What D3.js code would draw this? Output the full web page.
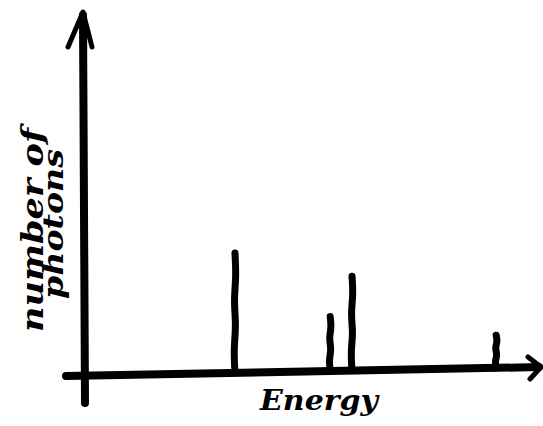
<!DOCTYPE html>
<html>
<head>
<meta charset="utf-8">
<script src="https://cdn.jsdelivr.net/npm/d3@7"></script>
<style>
  html, body { margin: 0; padding: 0; background: #fff; }
  svg { display: block; }
</style>
</head>
<body>
<script>
// ---- data ----
const energies = [33.7, 55.1, 60.0, 92.4];      // line positions (arbitrary energy units)
const photonCounts = [33, 15, 26, 9];           // line heights (arbitrary count units)
const xLabel = "Energy";
const yLabelLines = ["number of", "photons"];

const W = 543, H = 426;
const svg = d3.select("body").append("svg").attr("width", W).attr("height", H);

const x = d3.scaleLinear().domain([0, 100]).range([85, 530]);
const h = d3.scaleLinear().domain([0, 100]).range([0, 363]);
// hand-drawn baseline slopes slightly upward to the right
const baseY = d3.scaleLinear().domain([65, 542]).range([376, 367]);

const ink = "#000";

// y axis
svg.append("line").attr("x1", 85).attr("y1", 403).attr("x2", 83).attr("y2", 15)
  .attr("stroke", ink).attr("stroke-width", 8).attr("stroke-linecap", "round");
svg.append("path").attr("d", "M68,47 L83,12 L92,47")
  .attr("fill", "none").attr("stroke", ink).attr("stroke-width", 5)
  .attr("stroke-linecap", "round").attr("stroke-linejoin", "round");

// x axis
svg.append("line").attr("x1", 66).attr("y1", baseY(66)).attr("x2", 539).attr("y2", baseY(539))
  .attr("stroke", ink).attr("stroke-width", 8).attr("stroke-linecap", "round");
svg.append("path").attr("d", "M528,357 L541,367 L530,379")
  .attr("fill", "none").attr("stroke", ink).attr("stroke-width", 5)
  .attr("stroke-linecap", "round").attr("stroke-linejoin", "round");

// spectral lines
const data = energies.map((e, i) => ({ e, c: photonCounts[i] }));
svg.append("g").selectAll("path").data(data).join("path")
  .attr("d", d => {
    const px = x(d.e), y0 = baseY(px), y1 = y0 - h(d.c);
    const line = d3.line().curve(d3.curveBasis);
    const n = 5, pts = [];
    for (let k = 0; k <= n; k++) {
      const t = k / n;
      const wob = (k === 0 || k === n) ? 0 : (k % 2 ? -1.3 : 1.3);
      pts.push([px + wob, y0 + (y1 - y0) * t]);
    }
    return line(pts);
  })
  .attr("fill", "none").attr("stroke", ink).attr("stroke-width", 7)
  .attr("stroke-linecap", "round");

// labels
const fontFam = "'DejaVu Serif', serif";
svg.append("text").text(xLabel)
  .attr("x", 260).attr("y", 410)
  .attr("font-family", fontFam).attr("font-style", "italic").attr("font-weight", "bold")
  .attr("font-size", 28).attr("textLength", 118).attr("lengthAdjust", "spacingAndGlyphs")
  .attr("fill", ink);

const yl = svg.append("g");
yl.append("text").text(yLabelLines[0])
  .attr("transform", "translate(43,230) rotate(-90)").attr("text-anchor", "middle")
  .attr("font-family", fontFam).attr("font-style", "italic").attr("font-weight", "bold")
  .attr("font-size", 29).attr("textLength", 204).attr("lengthAdjust", "spacingAndGlyphs")
  .attr("fill", ink);
yl.append("text").text(yLabelLines[1])
  .attr("transform", "translate(63,224) rotate(-90)").attr("text-anchor", "middle")
  .attr("font-family", fontFam).attr("font-style", "italic").attr("font-weight", "bold")
  .attr("font-size", 27).attr("textLength", 150).attr("lengthAdjust", "spacingAndGlyphs")
  .attr("fill", ink);
</script>
</body>
</html>
